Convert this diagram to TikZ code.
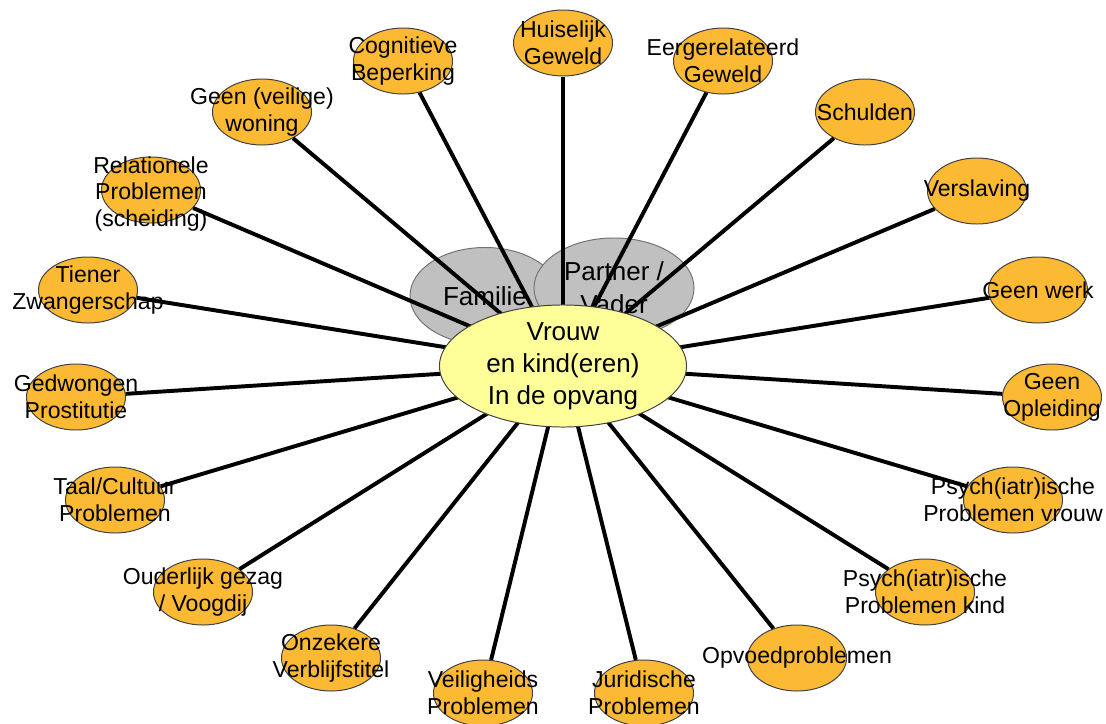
\documentclass[tikz,border=0pt]{standalone}
\usepackage{fontspec}
\setmainfont{Liberation Sans}
\usetikzlibrary{shapes.geometric}
\definecolor{issueorange}{RGB}{251,185,52}
\definecolor{coreyellow}{RGB}{255,255,153}
\definecolor{sidegrey}{RGB}{192,192,192}

\begin{document}
\begin{tikzpicture}[x=0.025cm, y=-0.025cm]
\tikzstyle{issue} = [ellipse, minimum width=2.475cm, minimum height=1.65cm, inner sep=0pt, draw=black!75, line width=0.7pt, fill=issueorange]
\tikzstyle{issuetext} = [align=center, inner sep=0pt, font=\fontsize{16.4}{19}\selectfont]
\tikzstyle{side} = [ellipse, inner sep=0pt, draw=black!55, line width=0.7pt, fill=sidegrey, align=center, font=\fontsize{18.5}{23.5}\selectfont]
\tikzstyle{core} = [ellipse, minimum width=6.175cm, minimum height=3.05cm, inner sep=0pt, draw=black!75, line width=0.7pt, fill=coreyellow]
\tikzstyle{coretext} = [align=center, inner sep=0pt, font=\fontsize{18.5}{22.8}\selectfont]
\tikzstyle{spoke} = [line width=2.8pt]
\useasboundingbox (0,0) rectangle (1106,724);
\coordinate (hub) at (563,366);
% grey background circles
\node (fam) [side, minimum width=3.75cm, minimum height=2.425cm] at (485,296) {Familie};
\node (pa) [side, minimum width=4cm, minimum height=2.5cm] at (614,288) {Partner /\\Vader};
% orange problem circles
\node (cb) [issue] at (403,61) {};
\node (hw) [issue] at (563,43) {};
\node (eg) [issue] at (723,61) {};
\node (sch) [issue] at (865,112) {};
\node (ver) [issue] at (977,191) {};
\node (gw) [issue] at (1038,290) {};
\node (go) [issue] at (1052,397) {};
\node (pv) [issue] at (1013,500) {};
\node (pk) [issue] at (925,592) {};
\node (op) [issue] at (797,658) {};
\node (jp) [issue] at (644,693) {};
\node (vp) [issue] at (483,693) {};
\node (ov) [issue] at (331,658) {};
\node (og) [issue] at (203,592) {};
\node (tc) [issue] at (115,500) {};
\node (gp) [issue] at (76,397) {};
\node (tz) [issue] at (88,290) {};
\node (rp) [issue] at (151,190) {};
\node (gv) [issue] at (262,112) {};
% spokes
\draw [spoke] (hub) -- (cb);
\draw [spoke] (hub) -- (hw);
\draw [spoke] (hub) -- (eg);
\draw [spoke] (hub) -- (sch);
\draw [spoke] (hub) -- (ver);
\draw [spoke] (hub) -- (gw);
\draw [spoke] (hub) -- (go);
\draw [spoke] (hub) -- (pv);
\draw [spoke] (hub) -- (pk);
\draw [spoke] (hub) -- (op);
\draw [spoke] (hub) -- (jp);
\draw [spoke] (hub) -- (vp);
\draw [spoke] (hub) -- (ov);
\draw [spoke] (hub) -- (og);
\draw [spoke] (hub) -- (tc);
\draw [spoke] (hub) -- (gp);
\draw [spoke] (hub) -- (tz);
\draw [spoke] (hub) -- (rp);
\draw [spoke] (hub) -- (gv);
% labels on top
\node (cbt) [issuetext] at (cb) {Cognitieve\\Beperking};
\node (hwt) [issuetext] at (hw) {Huiselijk\\Geweld};
\node (egt) [issuetext] at (eg) {Eergerelateerd\\Geweld};
\node (scht) [issuetext] at (sch) {Schulden};
\node (vert) [issuetext] at (ver) {Verslaving};
\node (gwt) [issuetext] at (gw) {Geen werk};
\node (got) [issuetext] at (go) {Geen\\Opleiding};
\node (pvt) [issuetext] at (pv) {Psych(iatr)ische\\Problemen vrouw};
\node (pkt) [issuetext] at (pk) {Psych(iatr)ische\\Problemen kind};
\node (opt) [issuetext] at (op) {Opvoedproblemen};
\node (jpt) [issuetext] at (jp) {Juridische\\Problemen};
\node (vpt) [issuetext] at (vp) {Veiligheids\\Problemen};
\node (ovt) [issuetext] at (ov) {Onzekere\\Verblijfstitel};
\node (ogt) [issuetext] at (og) {Ouderlijk gezag\\/ Voogdij};
\node (tct) [issuetext] at (tc) {Taal/Cultuur\\Problemen};
\node (gpt) [issuetext] at (gp) {Gedwongen\\Prostitutie};
\node (tzt) [issuetext] at (tz) {Tiener\\Zwangerschap};
\node (rpt) [issuetext, yshift=-0.1cm] at (rp) {Relationele\\Problemen\\(scheiding)};
\node (gvt) [issuetext] at (gv) {Geen (veilige)\\woning};
% centre
\node (vk) [core] at (hub) {};
\node (vkt) [coretext] at (vk) {Vrouw\\en kind(eren)\\In de opvang};
\end{tikzpicture}
\end{document}
